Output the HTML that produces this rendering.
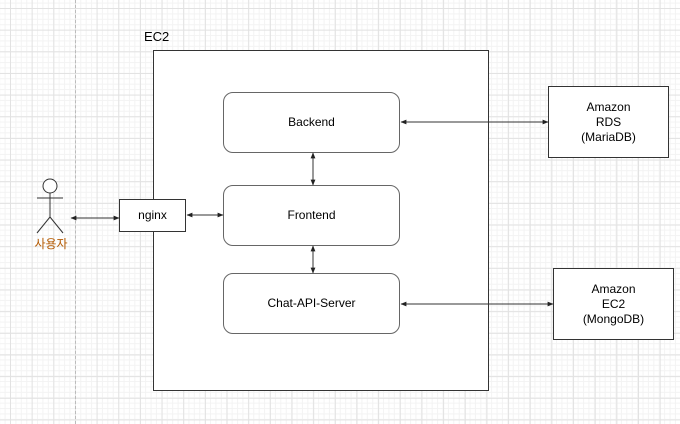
<!DOCTYPE html>
<html><head><meta charset="utf-8"><style>
body{margin:0;width:680px;height:424px;position:relative;overflow:hidden;font-family:"Liberation Sans","Noto Sans CJK KR",sans-serif;font-size:12px;color:#000;
background-color:#fff;
background-image:linear-gradient(#e2e2e2 1px,transparent 1px),linear-gradient(90deg,#e2e2e2 1px,transparent 1px),linear-gradient(#f3f3f3 1px,transparent 1px),linear-gradient(90deg,#f3f3f3 1px,transparent 1px);
background-size:21.67px 21.67px,21.67px 21.67px,5.417px 5.417px,5.417px 5.417px;
background-position:0 8px,10px 0,0 8px,10px 0;}
.b{position:absolute;box-sizing:border-box;border:1px solid #333;background:#fff;display:flex;align-items:center;justify-content:center;text-align:center;line-height:15px}
.r{border-radius:10px;border-color:#666}
</style></head><body>
<div style="position:absolute;left:75px;top:0;height:424px;border-left:1px dashed #bbb"></div>
<div class="b" style="left:153px;top:50px;width:336px;height:341px"></div>
<div style="position:absolute;left:144px;top:29px;font-size:13px">EC2</div>
<div class="b r" style="left:223px;top:92px;width:177px;height:61px">Backend</div>
<div class="b r" style="left:223px;top:185px;width:177px;height:61px">Frontend</div>
<div class="b r" style="left:223px;top:273px;width:177px;height:61px">Chat-API-Server</div>
<div class="b" style="left:119px;top:199px;width:67px;height:33px">nginx</div>
<div class="b" style="left:548px;top:86px;width:121px;height:72px">Amazon<br>RDS<br>(MariaDB)</div>
<div class="b" style="left:553px;top:268px;width:121px;height:72px">Amazon<br>EC2<br>(MongoDB)</div>
<div style="position:absolute;left:31px;top:235px;width:40px;text-align:center;color:#b35900;font-size:12px">사용자</div>
<svg width="680" height="424" style="position:absolute;left:0;top:0">
<defs><marker id="a" viewBox="0 0 10 10" refX="9" refY="5" markerWidth="6" markerHeight="6" orient="auto-start-reverse"><path d="M0,1L10,5L0,9z" fill="#222"/></marker></defs>
<g fill="none" stroke="#333" stroke-width="1">
<circle cx="50" cy="186" r="7" fill="#fff"/>
<line x1="50" y1="193" x2="50" y2="217"/><line x1="37" y1="198" x2="63" y2="198"/>
<line x1="50" y1="217" x2="37" y2="233"/><line x1="50" y1="217" x2="63" y2="233"/>
<g marker-start="url(#a)" marker-end="url(#a)">
<line x1="71" y1="218" x2="119" y2="218"/>
<line x1="187" y1="215" x2="223" y2="215"/>
<line x1="401" y1="122" x2="548" y2="122"/>
<line x1="401" y1="304" x2="553" y2="304"/>
<line x1="313" y1="153" x2="313" y2="185"/>
<line x1="313" y1="246" x2="313" y2="273"/>
</g></g></svg>
</body></html>
